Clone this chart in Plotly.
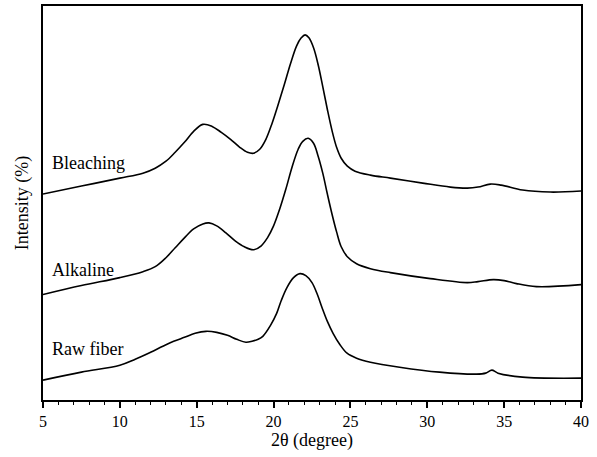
import plotly.graph_objects as go

# Data (values are pixel rows in the original image; converted to intensity below)
bleach_x = [5, 7.5, 10, 11.5, 12.3, 13.0, 13.6, 14.2, 14.8, 15.4, 16.0, 16.6, 17.2, 17.8, 18.3, 18.7,
            19.1, 19.5, 19.9, 20.3, 20.7, 21.1, 21.5, 21.8, 22.05, 22.3, 22.6, 22.9, 23.2, 23.5, 23.8,
            24.1, 24.4, 24.8, 25.3, 26.3, 27.6, 29.7, 31.5, 32.6, 33.3, 34.1, 34.8, 36.2, 38.0, 40]
bleach_py = [193, 185, 177, 172, 167, 160, 151, 141, 130, 123, 125, 131, 138, 146, 151, 152,
             148, 138, 122, 103, 83, 62, 44, 36, 33, 36, 46, 63, 85, 108, 129,
             146, 157, 165, 170, 174, 177, 182, 186, 187, 186, 183, 184, 189, 191, 190]

alk_x = [5, 7.5, 10, 11.5, 12.3, 13.0, 13.6, 14.2, 14.8, 15.4, 15.8, 16.3, 16.9, 17.5, 18.1, 18.7,
         19.2, 19.6, 20.0, 20.4, 20.8, 21.2, 21.6, 21.9, 22.25, 22.6, 22.9, 23.2, 23.5, 23.8, 24.1,
         24.4, 24.8, 25.4, 26.3, 27.6, 30.2, 32.6, 33.3, 34.3, 35.0, 35.8, 37.1, 40]
alk_py = [294, 285, 277, 271, 266, 257, 247, 237, 228, 223, 222, 225, 232, 240, 246, 249,
          245, 237, 225, 208, 188, 166, 148, 140, 137, 142, 155, 172, 193, 213, 231,
          246, 256, 263, 268, 272, 278, 282, 281, 279, 280, 283, 286, 284]

raw_x = [5, 7.5, 10, 11.0, 12.0, 12.8, 13.5, 14.2, 14.9, 15.6, 16.3, 17.0, 17.6, 18.2, 18.6, 19.0,
         19.3, 19.8, 20.2, 20.5, 20.87, 21.3, 21.72, 22.1, 22.5, 22.85, 23.15, 23.5, 23.87, 24.3,
         24.78, 25.4, 26.3, 28.2, 30.8, 33.2, 33.8, 34.2, 34.6, 36.2, 40]
raw_py = [380, 372, 365, 359, 352, 346, 341, 337, 333, 331, 332, 335, 339, 342, 341, 339,
          336, 325, 313, 300, 287, 277, 273, 275, 282, 294, 307, 321, 333, 344,
          353, 358, 362, 367, 372, 374, 373, 370, 373, 377, 378]

x_ticks = [5, 10, 15, 20, 25, 30, 35, 40]
labels = ["Bleaching", "Alkaline", "Raw fiber"]
label_py = [162, 269, 349]

BASE = 400
def inten(py):
    return [BASE - v for v in py]

fig = go.Figure()
for xs, pys in [(bleach_x, bleach_py), (alk_x, alk_py), (raw_x, raw_py)]:
    fig.add_trace(go.Scatter(x=xs, y=inten(pys), mode="lines",
                             line=dict(color="black", width=1.6, shape="spline", smoothing=1.0),
                             showlegend=False, hoverinfo="skip"))

for lab, ly in zip(labels, label_py):
    fig.add_annotation(text=lab, x=5.45, y=BASE - ly, xref="x", yref="y",
                       xanchor="left", yanchor="middle", showarrow=False,
                       font=dict(family="Liberation Serif", size=18, color="black"))

fig.update_layout(
    width=597, height=457,
    margin=dict(l=43, r=16, t=4, b=57),
    paper_bgcolor="white", plot_bgcolor="white",
    font=dict(family="Liberation Serif", size=16, color="black"),
    xaxis=dict(range=[5, 40], tickvals=x_ticks, ticks="outside", ticklen=6, tickwidth=1.5,
               tickcolor="black", showline=True, linecolor="black", linewidth=1.8, mirror=True,
               showgrid=False, zeroline=False,
               minor=dict(dtick=1, ticks="outside", ticklen=3.5, tickwidth=1.2, tickcolor="black"),
               title=dict(text="2θ (degree)", font=dict(size=18), standoff=4),
               tickfont=dict(size=16)),
    yaxis=dict(range=[0, 396], showticklabels=False, ticks="", showline=True, linecolor="black",
               linewidth=1.8, mirror=True, showgrid=False, zeroline=False,
               title=dict(text="Intensity (%)", font=dict(size=18), standoff=8)),
)

fig.write_html("out.html", config={"displayModeBar": False},
               post_script="document.body.style.margin='0px';")
